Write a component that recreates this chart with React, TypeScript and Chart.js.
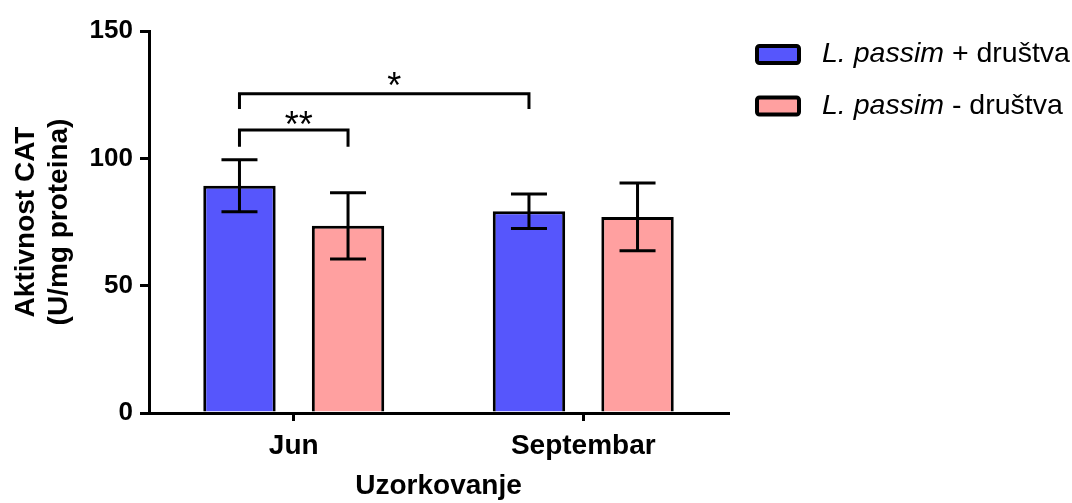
import React, { useEffect, useRef } from "react";
import { Chart, registerables } from "chart.js";

Chart.register(...registerables);

// Sampling months and the two colony groups
const categories = ["Jun", "Septembar"];
const legendItalic = "L. passim";
const legendRest = [" + društva", " - društva"];
const seriesNames = ["L. passim + društva", "L. passim - društva"];

// CAT activity (U/mg proteina), mean and error per month
const withColonies = [89.2, 79.2];
const withColoniesErr = [10.2, 6.8];
const withoutColonies = [73.5, 77.0];
const withoutColoniesErr = [13.0, 13.3];

const yTicks = [0, 50, 100, 150];

// Significance brackets: bar A (dataset, index), bar B, line level, leg end level, label
const bracketFrom = [
  [0, 0],
  [0, 0],
];
const bracketTo = [
  [1, 0],
  [0, 1],
];
const bracketLevel = [111.1, 125.4];
const bracketLegEnd = [104.5, 119.4];
const bracketLabel = ["**", "*"];

const FONT = "'Liberation Sans', Arial, sans-serif";
const BLUE = "#5656FC";
const PINK = "#FFA0A0";

const seriesValues = [withColonies, withoutColonies];
const seriesErrors = [withColoniesErr, withoutColoniesErr];
const seriesColors = [BLUE, PINK];

const overlayPlugin = {
  id: "overlay",
  afterDatasetsDraw(chart: any) {
    const ctx = chart.ctx as CanvasRenderingContext2D;
    const yScale = chart.scales.y;
    ctx.save();
    ctx.strokeStyle = "#000";
    ctx.fillStyle = "#000";
    ctx.lineWidth = 3;
    ctx.lineCap = "butt";
    ctx.lineJoin = "miter";

    // error bars
    seriesErrors.forEach((errs, di) => {
      const meta = chart.getDatasetMeta(di);
      meta.data.forEach((bar: any, i: number) => {
        const v = seriesValues[di][i];
        const e = errs[i];
        const x = bar.x;
        const yHi = yScale.getPixelForValue(v + e);
        const yLo = yScale.getPixelForValue(v - e);
        ctx.beginPath();
        ctx.moveTo(x, yHi);
        ctx.lineTo(x, yLo);
        ctx.moveTo(x - 18, yHi);
        ctx.lineTo(x + 18, yHi);
        ctx.moveTo(x - 18, yLo);
        ctx.lineTo(x + 18, yLo);
        ctx.stroke();
      });
    });

    // significance brackets
    const starShift = [5, 10];
    const starLift = [12.5, 15];
    bracketLabel.forEach((label, k) => {
      const a = chart.getDatasetMeta(bracketFrom[k][0]).data[bracketFrom[k][1]] as any;
      const b = chart.getDatasetMeta(bracketTo[k][0]).data[bracketTo[k][1]] as any;
      const yLine = yScale.getPixelForValue(bracketLevel[k]);
      const yLeg = yScale.getPixelForValue(bracketLegEnd[k]);
      ctx.beginPath();
      ctx.moveTo(a.x, yLeg);
      ctx.lineTo(a.x, yLine);
      ctx.lineTo(b.x, yLine);
      ctx.lineTo(b.x, yLeg);
      ctx.stroke();
      ctx.font = `36px ${FONT}`;
      ctx.textAlign = "center";
      ctx.textBaseline = "alphabetic";
      const m = ctx.measureText(label);
      const glyphMid = (m.actualBoundingBoxAscent - m.actualBoundingBoxDescent) / 2;
      ctx.fillText(label, (a.x + b.x) / 2 + starShift[k], yLine - starLift[k] + glyphMid);
    });

    // legend
    const area = chart.chartArea;
    const boxX = area.right + 29;
    const rows = [54.5, 106];
    rows.forEach((cy, i) => {
      ctx.beginPath();
      ctx.lineWidth = 4;
      const w = 42;
      const h = 17;
      ctx.roundRect(boxX, cy - h / 2, w, h, 2.5);
      ctx.fillStyle = seriesColors[i];
      ctx.fill();
      ctx.strokeStyle = "#000";
      ctx.stroke();

      ctx.fillStyle = "#000";
      ctx.textAlign = "left";
      ctx.textBaseline = "middle";
      const tx = area.right + 94;
      ctx.font = `italic 28.5px ${FONT}`;
      ctx.fillText(legendItalic, tx, cy);
      const wi = ctx.measureText(legendItalic).width;
      ctx.font = `28.5px ${FONT}`;
      ctx.fillText(legendRest[i], tx + wi, cy);
    });
    ctx.restore();
  },
};

export default function App() {
  const canvasRef = useRef<HTMLCanvasElement | null>(null);

  useEffect(() => {
    const canvas = canvasRef.current;
    if (!canvas) return;
    Chart.defaults.font.family = FONT;
    Chart.defaults.color = "#000";

    const chart = new Chart(canvas, {
      type: "bar",
      data: {
        labels: categories,
        datasets: [
          {
            label: seriesNames[0],
            data: withColonies,
            backgroundColor: BLUE,
            borderColor: "#000",
            borderWidth: 3,
            barPercentage: 0.667,
            categoryPercentage: 0.75,
          },
          {
            label: seriesNames[1],
            data: withoutColonies,
            backgroundColor: PINK,
            borderColor: "#000",
            borderWidth: 3,
            barPercentage: 0.667,
            categoryPercentage: 0.75,
          },
        ],
      },
      options: {
        responsive: false,
        animation: false,
        layout: { padding: { left: 0, right: 344, top: 31, bottom: 0 } },
        plugins: {
          legend: { display: false },
          tooltip: { enabled: false },
        },
        scales: {
          x: {
            afterFit: (s: any) => {
              s.height = 90;
            },
            border: { color: "#000", width: 3 },
            grid: {
              offset: false,
              drawOnChartArea: false,
              color: "#000",
              lineWidth: 3,
              tickLength: 8,
            },
            ticks: {
              color: "#000",
              padding: 8,
              font: { size: 28, weight: "bold", family: FONT },
            },
            title: {
              display: true,
              text: "Uzorkovanje",
              color: "#000",
              font: { size: 28, weight: "bold", family: FONT, lineHeight: 1.2 },
              padding: { top: 0, bottom: 0 },
            },
          },
          y: {
            min: 0,
            max: 150,
            afterFit: (s: any) => {
              s.width = 149;
            },
            afterBuildTicks: (s: any) => {
              s.ticks = yTicks.map((v) => ({ value: v }));
            },
            border: { color: "#000", width: 3 },
            grid: {
              drawOnChartArea: false,
              color: "#000",
              lineWidth: 3,
              tickLength: 9,
            },
            ticks: {
              color: "#000",
              padding: 7,
              font: { size: 26, weight: "bold", family: FONT },
            },
            title: {
              display: true,
              text: ["Aktivnost CAT", "(U/mg proteina)"],
              color: "#000",
              font: { size: 28, weight: "bold", family: FONT, lineHeight: 1.2 },
              padding: { top: 9, bottom: 0 },
            },
          },
        },
      },
      plugins: [overlayPlugin],
    });

    return () => {
      chart.destroy();
    };
  }, []);

  return (
    <div style={{ position: "fixed", left: 0, top: 0, width: 1072, height: 503, background: "#fff" }}>
      <canvas ref={canvasRef} width={1072} height={503} />
    </div>
  );
}
